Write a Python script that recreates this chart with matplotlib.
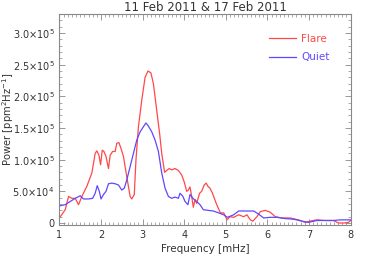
import numpy as np
import matplotlib
matplotlib.use('Agg')
import matplotlib.pyplot as plt
from matplotlib.ticker import MultipleLocator, FixedLocator

# power spectra (frequency in mHz, power in ppm^2/Hz)
flare_f = [1.00, 1.14, 1.22, 1.30, 1.38, 1.46, 1.54, 1.66, 1.78, 1.86, 1.90, 1.95, 1.99,
           2.03, 2.07, 2.12, 2.18, 2.22, 2.28, 2.34, 2.38, 2.43, 2.48, 2.54, 2.62, 2.70,
           2.74, 2.80, 2.84, 2.90, 2.98, 3.06, 3.13, 3.20, 3.26, 3.33, 3.41, 3.46, 3.53,
           3.58, 3.64, 3.70, 3.78, 3.86, 3.94, 4.00, 4.06, 4.10, 4.14, 4.18, 4.22, 4.26,
           4.30, 4.37, 4.42, 4.48, 4.53, 4.57, 4.62, 4.68, 4.77, 4.87, 4.95, 5.03, 5.10,
           5.19, 5.31, 5.43, 5.51, 5.59, 5.65, 5.75, 5.83, 5.95, 6.07, 6.19, 6.35, 6.55,
           6.75, 6.91, 7.03, 7.19, 7.39, 7.59, 7.71, 7.83, 7.95, 8.00]
flare_p = [8e3, 2.1e4, 4.2e4, 3.9e4, 3.9e4, 2.9e4, 4.2e4, 5.8e4, 7.9e4, 1.10e5, 1.14e5, 1.07e5, 9.2e4,
           1.15e5, 1.13e5, 1.05e5, 8.6e4, 1.07e5, 1.13e5, 1.13e5, 1.26e5, 1.27e5, 1.18e5, 1.05e5, 7.3e4, 4.2e4,
           3.8e4, 4.5e4, 9.9e4, 1.52e5, 1.94e5, 2.30e5, 2.40e5, 2.37e5, 2.20e5, 1.83e5, 1.41e5, 1.10e5, 8.0e4,
           8.3e4, 8.6e4, 8.4e4, 8.6e4, 8.3e4, 7.6e4, 6.5e4, 5.0e4, 5.2e4, 5.7e4, 4.2e4, 2.5e4, 3.7e4,
           3.1e4, 4.7e4, 5.0e4, 6.0e4, 6.3e4, 5.8e4, 5.5e4, 4.7e4, 3.1e4, 1.6e4, 1.6e4, 5e3, 1.0e4,
           9e3, 1.3e4, 1.0e4, 1.3e4, 5e3, 3e3, 1.0e4, 1.8e4, 2.0e4, 1.7e4, 1.0e4, 8e3, 8e3,
           5e3, 1e3, 3e3, 5e3, 4e3, 4e3, 0, 0, 1e3, 4e3]

quiet_f = [1.00, 1.14, 1.26, 1.38, 1.50, 1.58, 1.70, 1.80, 1.86, 1.91, 1.96, 2.00, 2.06,
           2.12, 2.18, 2.26, 2.34, 2.42, 2.50, 2.56, 2.62, 2.70, 2.78, 2.86, 2.94, 3.02,
           3.08, 3.14, 3.22, 3.30, 3.38, 3.46, 3.54, 3.62, 3.70, 3.78, 3.86, 3.90, 3.97,
           4.02, 4.09, 4.14, 4.21, 4.30, 4.38, 4.46, 4.58, 4.70, 4.83, 4.95, 5.04, 5.19,
           5.31, 5.47, 5.67, 5.79, 5.91, 6.07, 6.23, 6.43, 6.63, 6.83, 6.99, 7.19, 7.43,
           7.59, 7.75, 8.00]
quiet_p = [2.7e4, 2.9e4, 3.4e4, 3.9e4, 4.3e4, 3.8e4, 3.8e4, 3.9e4, 4.7e4, 5.9e4, 5.0e4, 3.8e4, 4.5e4,
           5.0e4, 6.2e4, 6.3e4, 6.2e4, 6.0e4, 5.2e4, 5.5e4, 6.8e4, 8.9e4, 1.10e5, 1.31e5, 1.44e5, 1.52e5,
           1.58e5, 1.53e5, 1.44e5, 1.31e5, 1.13e5, 7.9e4, 5.5e4, 4.2e4, 3.9e4, 4.1e4, 3.9e4, 4.7e4, 4.2e4,
           3.4e4, 2.9e4, 4.5e4, 3.9e4, 3.4e4, 2.9e4, 2.1e4, 2.0e4, 1.9e4, 1.6e4, 1.3e4, 9e3, 1.3e4,
           1.9e4, 1.9e4, 1.9e4, 1.4e4, 8e3, 9e3, 9e3, 7e3, 6e3, 3e3, 1e3, 4e3, 4e3,
           4e3, 5e3, 5e3]

ytick_vals = [0, 5e4, 1e5, 1.5e5, 2e5, 2.5e5, 3e5]
ytick_labels = ['0', r'5.0$\times$10$^4$', r'1.0$\times$10$^5$', r'1.5$\times$10$^5$',
                r'2.0$\times$10$^5$', r'2.5$\times$10$^5$', r'3.0$\times$10$^5$']

txt = '#333333'
fig = plt.figure(figsize=(3.69, 2.64), dpi=100)
ax = fig.add_axes([0.161, 0.148, 0.789, 0.799])

ax.plot(flare_f, flare_p, color='#ff4848', lw=0.9, label='Flare')
ax.plot(quiet_f, quiet_p, color='#5e48ff', lw=0.9, label='Quiet')

ax.set_xlim(1, 8)
ax.set_ylim(-3000, 3.3e5)
ax.xaxis.set_major_locator(MultipleLocator(1))
ax.xaxis.set_minor_locator(MultipleLocator(0.1))
ax.yaxis.set_major_locator(FixedLocator(ytick_vals))
ax.yaxis.set_minor_locator(MultipleLocator(1e4))
ax.set_yticklabels(ytick_labels)
ax.tick_params(which='both', direction='in', top=True, right=True, colors='#888888',
               labelcolor=txt, labelsize=7)
ax.tick_params(which='major', length=4, width=0.6)
ax.tick_params(which='minor', length=2, width=0.5)
for s in ax.spines.values():
    s.set_color('#888888')
    s.set_linewidth(0.8)

ax.set_title('11 Feb 2011 & 17 Feb 2011', fontsize=8.5, color=txt, pad=1.5)
ax.set_xlabel('Frequency [mHz]', fontsize=7.5, color=txt, labelpad=3)
ax.set_ylabel(r'Power [ppm$^2$Hz$^{-1}$]', fontsize=7.2, color=txt)
ax.yaxis.set_label_coords(-0.15, 0.5)

ax.legend(loc='upper right', bbox_to_anchor=(0.96, 0.95), frameon=False, fontsize=7.5,
          labelcolor='linecolor', handlelength=2.6, handletextpad=0.5, labelspacing=0.8)

fig.savefig('out.png', dpi=100)
